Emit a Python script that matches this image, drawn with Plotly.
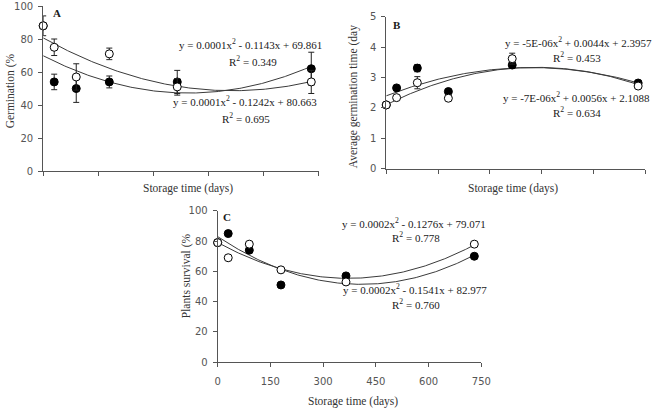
import numpy as np
import plotly.graph_objects as go

W, H = 657, 414

days = [0, 30, 90, 180, 365, 730]

# Panel A - Germination (%)
germ_filled = [88, 54, 50, 54, 54, 62]
germ_filled_err = [0, 4.7, 8.4, 3.6, 7, 10]
germ_open = [88, 75, 57, 71, 51, 54]
germ_open_err = [6, 5, 8, 3.5, 5, 7]

# Panel B - Average germination time (days)
agt_filled = [2.1, 2.66, 3.31, 2.54, 3.41, 2.82]
agt_filled_err = [0, 0, 0.12, 0, 0.08, 0]
agt_open = [2.1, 2.34, 2.83, 2.32, 3.62, 2.72]
agt_open_err = [0, 0, 0.2, 0, 0.18, 0]

# Panel C - Plants survival (%)
surv_filled = [79, 85, 74, 51, 57, 70]
surv_open = [79, 69, 78, 61, 53, 78]

xticks = [0, 150, 300, 450, 600, 750]

SERIF = "Liberation Serif"
SANS = "DejaVu Sans"
LINE = "#3a3a3a"


def px(x):
    return x / W


def py(y):
    return 1 - y / H


fig = go.Figure()


def add_panel(xa, ya, yfill, efill, yopen, eopen):
    xs = np.linspace(0, 730, 200)
    for yv in (yfill, yopen):
        c = np.polyfit(days, yv, 2)
        fig.add_trace(go.Scatter(x=xs, y=np.polyval(c, xs), mode="lines",
                                 line=dict(color=LINE, width=1),
                                 xaxis=xa, yaxis=ya, showlegend=False,
                                 hoverinfo="skip"))
    fig.add_trace(go.Scatter(
        x=days, y=yfill, mode="markers", xaxis=xa, yaxis=ya, showlegend=False,
        marker=dict(color="black", size=8, line=dict(color="black", width=1)),
        error_y=dict(type="data", array=efill, color="#222", thickness=1,
                     width=3) if efill else None,
        cliponaxis=False))
    fig.add_trace(go.Scatter(
        x=days, y=yopen, mode="markers", xaxis=xa, yaxis=ya, showlegend=False,
        marker=dict(color="white", size=8, line=dict(color="black", width=1)),
        error_y=dict(type="data", array=eopen, color="#222", thickness=1,
                     width=3) if eopen else None,
        cliponaxis=False))


add_panel("x", "y", germ_filled, germ_filled_err, germ_open, germ_open_err)
add_panel("x2", "y2", agt_filled, agt_filled_err, agt_open, agt_open_err)
add_panel("x3", "y3", surv_filled, None, surv_open, None)

axis_common = dict(showline=True, linecolor="#555", linewidth=1, ticks="outside",
                   ticklen=4, tickcolor="#555", showgrid=False, zeroline=False,
                   tickfont=dict(family=SANS, size=10, color="#555"), fixedrange=True)

fig.update_layout(
    width=W, height=H, margin=dict(l=0, r=0, t=0, b=0),
    paper_bgcolor="white", plot_bgcolor="white",
    xaxis=dict(domain=[px(41), px(322)], range=[0, 750], tickvals=xticks,
               showticklabels=False, anchor="y", **axis_common),
    yaxis=dict(domain=[py(170), py(0)], range=[0, 100], tickvals=[0, 20, 40, 60, 80, 100],
               anchor="x", ticklabelstandoff=3, **axis_common),
    xaxis2=dict(domain=[px(391), px(655)], range=[0, 750], tickvals=xticks,
                showticklabels=False, anchor="y2", **axis_common),
    yaxis2=dict(domain=[py(167.7), py(11)], range=[0, 5], tickvals=[0, 1, 2, 3, 4, 5],
                anchor="x2", ticklabelstandoff=3, **axis_common),
    xaxis3=dict(domain=[px(219), px(488)], range=[0, 750], tickvals=xticks,
                anchor="y3", ticklabelstandoff=6, **axis_common),
    yaxis3=dict(domain=[py(366.7), py(211)], range=[0, 100], tickvals=[0, 20, 40, 60, 80, 100],
                anchor="x3", ticklabelstandoff=3, **axis_common),
)

ann = []


def text(x, y, s, size=11, angle=0, bold=False, family=SERIF, color="#1a1a1a"):
    ann.append(dict(x=px(x), y=py(y), xref="paper", yref="paper", text=f"<b>{s}</b>" if bold else s,
                    showarrow=False, textangle=angle, xanchor="center", yanchor="middle",
                    font=dict(family=family, size=size, color=color)))


# Panel letters
text(55, 7, "A", 11, bold=True)
text(402, 20, "B", 11, bold=True)
text(229, 217, "C", 11, bold=True)

# Axis titles
text(189, 188, "Storage time (days)", 11.5, color="#333")
text(520, 188, "Storage time (days)", 11.5, color="#333")
text(357, 407, "Storage time (days)", 11.5, color="#333")
text(8, 87, "Germination (%", 11.5, angle=-90, color="#333")
text(357, 93, "Average germination time (day", 11.5, angle=-90, color="#333")
text(188, 278, "Plants survival (%", 11.5, angle=-90, color="#333")

# Equations
text(253, 39, "y = 0.0001x<sup>2</sup> - 0.1143x + 69.861", 11)
text(255, 57, "R<sup>2</sup> = 0.349", 11)
text(247, 98, "y = 0.0001x<sup>2</sup> - 0.1242x + 80.663", 11)
text(248, 115, "R<sup>2</sup> = 0.695", 11)

text(587, 37, "y = -5E-06x<sup>2</sup> + 0.0044x + 2.3957", 11)
text(586, 53, "R<sup>2</sup> = 0.453", 11)
text(585, 94, "y = -7E-06x<sup>2</sup> + 0.0056x + 2.1088", 11)
text(586, 109, "R<sup>2</sup> = 0.634", 11)

text(419, 223, "y = 0.0002x<sup>2</sup> - 0.1276x + 79.071", 11)
text(421, 238, "R<sup>2</sup> = 0.778", 11)
text(420, 291, "y = 0.0002x<sup>2</sup> - 0.1541x + 82.977", 11)
text(421, 307, "R<sup>2</sup> = 0.760", 11)

fig.update_layout(annotations=ann)
fig.write_html("out.html")
